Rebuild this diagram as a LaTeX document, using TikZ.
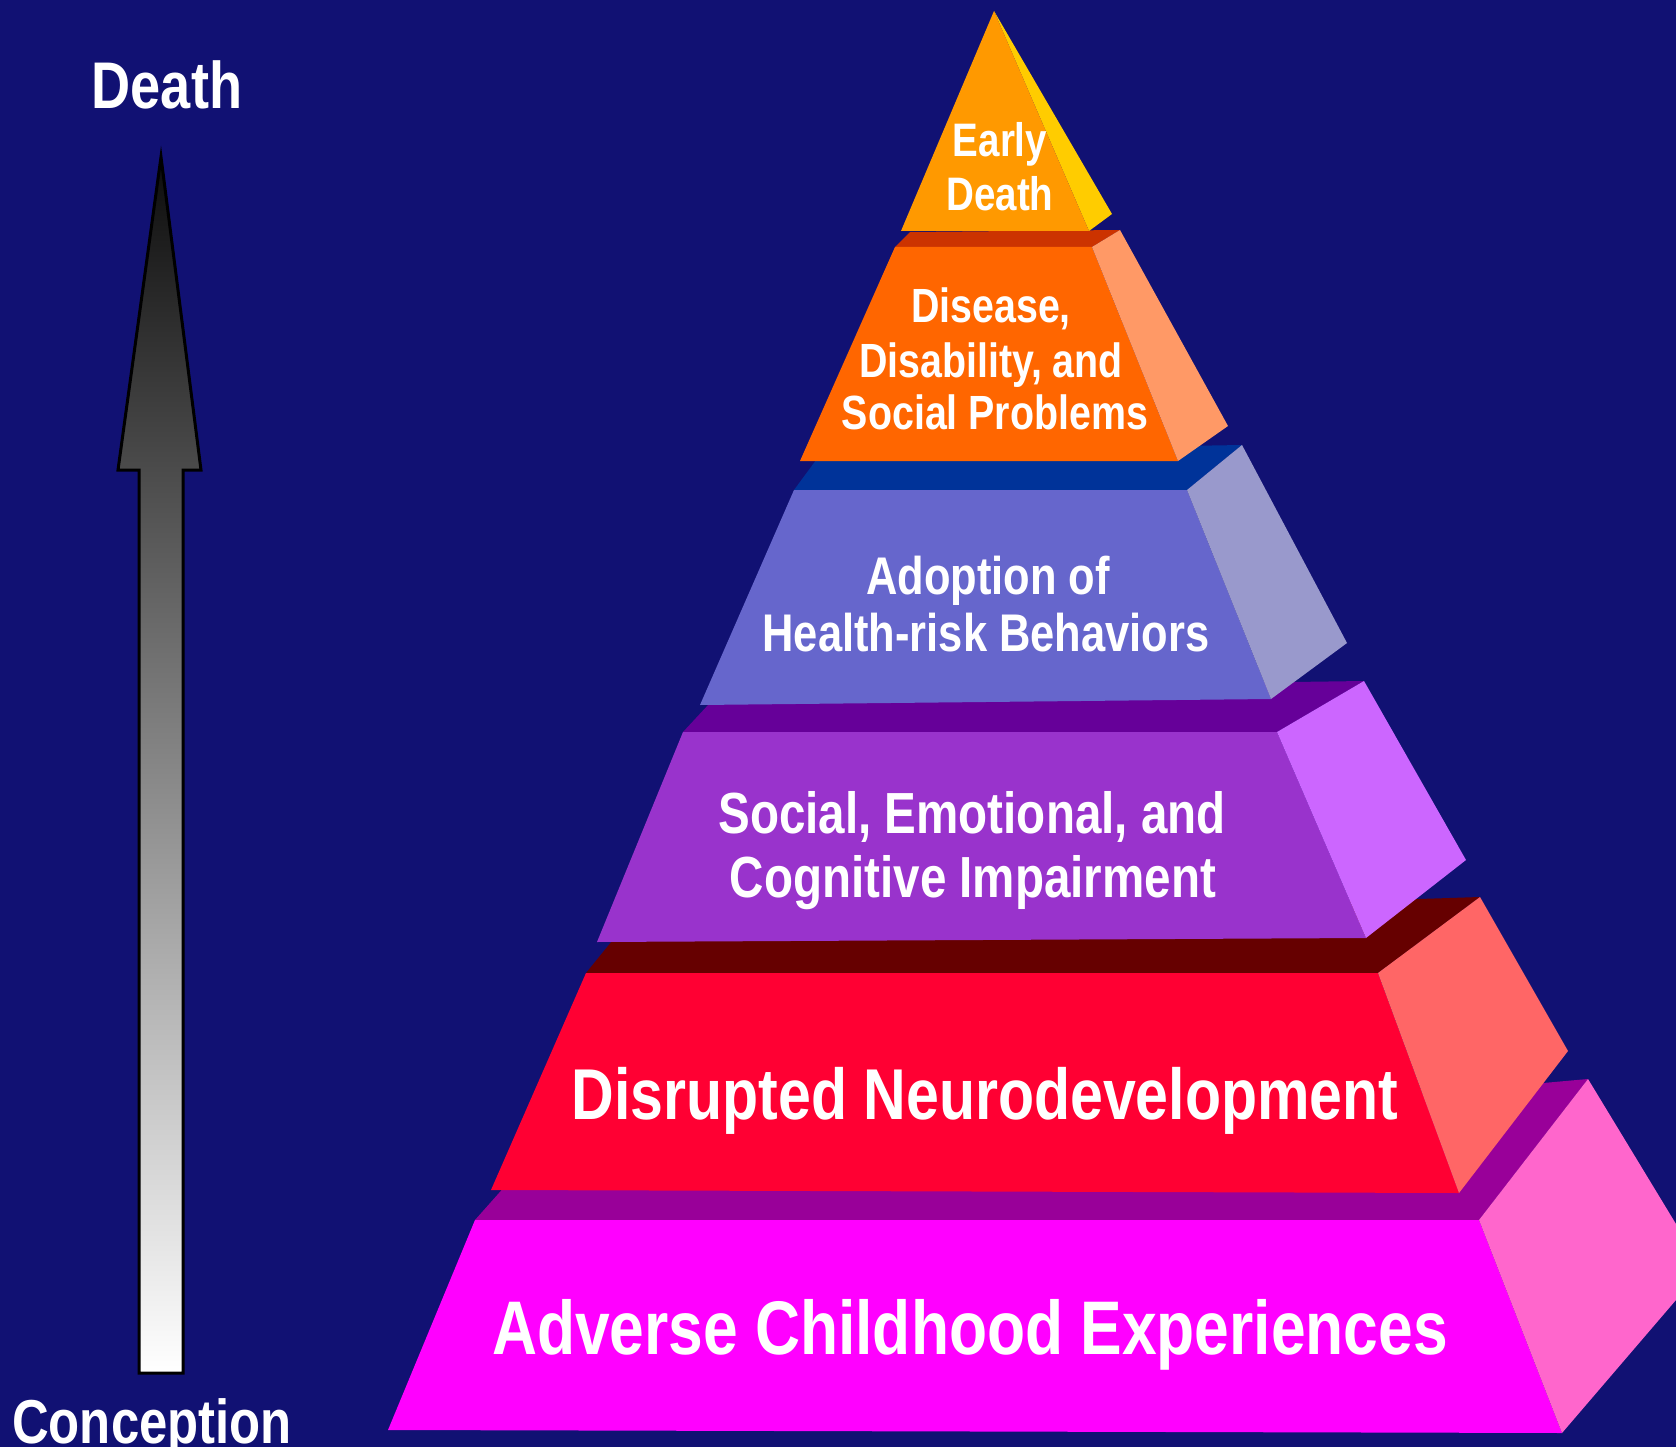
\documentclass[tikz,border=0pt]{standalone}
\usepackage{fontspec}
\newfontfamily\nar[FakeStretch=0.82]{Liberation Sans}
\newcommand\fsz[1]{\fontsize{#1}{#1}\selectfont\nar\bfseries}
\definecolor{bg}{HTML}{111173}
\definecolor{t1f}{HTML}{FF9900}\definecolor{t1s}{HTML}{FFCC00}
\definecolor{t2b}{HTML}{CC3300}\definecolor{t2f}{HTML}{FF6600}\definecolor{t2s}{HTML}{FF9966}
\definecolor{t3b}{HTML}{003399}\definecolor{t3f}{HTML}{6666CC}\definecolor{t3s}{HTML}{9999CC}
\definecolor{t4b}{HTML}{660099}\definecolor{t4f}{HTML}{9933CC}\definecolor{t4s}{HTML}{CC66FF}
\definecolor{t5b}{HTML}{660000}\definecolor{t5f}{HTML}{FF0033}\definecolor{t5s}{HTML}{FF6666}
\definecolor{t6b}{HTML}{990099}\definecolor{t6f}{HTML}{FF00FF}\definecolor{t6s}{HTML}{FF66CC}
\begin{document}
\begin{tikzpicture}[x=1pt,y=-1pt,
  lbl/.style={text=white, inner sep=0pt, anchor=base}]
\fill[bg] (0,0) rectangle (1676,1447);
\useasboundingbox (0,0) rectangle (1676,1447);

% tier 6: Adverse Childhood Experiences
\fill[t6b] (475,1220) -- (1479,1220) -- (1588,1079) -- (515,1175) -- cycle;
\fill[t6f] (475,1220) -- (1479,1220) -- (1562,1433) -- (388,1430) -- cycle;
\fill[t6s] (1479,1220) -- (1588,1079) -- (1676,1224) -- (1676,1300) -- (1562,1433) -- cycle;

% tier 5: Disrupted Neurodevelopment
\fill[t5b] (586,973) -- (1378,973) -- (1480,897) -- (625,925) -- cycle;
\fill[t5f] (586,973) -- (1378,973) -- (1459,1193) -- (491,1190) -- cycle;
\fill[t5s] (1378,973) -- (1480,897) -- (1568,1051) -- (1459,1193) -- cycle;

% tier 4: Social, Emotional...
\fill[t4b] (683,732) -- (1277,732) -- (1364,681) -- (722,690) -- cycle;
\fill[t4f] (683,732) -- (1277,732) -- (1366,938) -- (597,942) -- cycle;
\fill[t4s] (1277,732) -- (1364,681) -- (1466,860) -- (1366,938) -- cycle;

% tier 3: Adoption of Health-risk Behaviors
\fill[t3b] (794,490) -- (1187,490) -- (1242,445) -- (822,452) -- cycle;
\fill[t3f] (794,490) -- (1187,490) -- (1271,699) -- (700,705) -- cycle;
\fill[t3s] (1187,490) -- (1242,445) -- (1347,643) -- (1271,699) -- cycle;

% tier 2: Disease...
\fill[t2b] (895,247) -- (1092,247) -- (1120,230) -- (910,232) -- cycle;
\fill[t2f] (895,247) -- (1092,247) -- (1178,461) -- (800,461) -- cycle;
\fill[t2s] (1092,247) -- (1120,230) -- (1228,426) -- (1178,461) -- cycle;

% tier 1: Early Death
\fill[t1s] (994,11) -- (1112,214) -- (1089,231) -- cycle;
\fill[t1f] (994,11) -- (1089,231) -- (901,231) -- cycle;

% labels
\node[lbl, font=\fsz{47}] (early) at (1000,157) {Early};
\node[lbl, font=\fsz{47}] (edeath) at (1000,211) {Death};
\node[lbl, font=\fsz{48}] (dis1) at (991,323) {Disease,};
\node[lbl, font=\fsz{48}] (dis2) at (991,377) {Disability, and};
\node[lbl, font=\fsz{48}] (dis3) at (995,429) {Social Problems};
\node[lbl, font=\fsz{53}] (ad1) at (988,594) {Adoption of};
\node[lbl, font=\fsz{53}] (ad2) at (986,651) {Health-risk Behaviors};
\node[lbl, font=\fsz{58}] (so1) at (972,833) {Social, Emotional, and};
\node[lbl, font=\fsz{58}] (so2) at (973,897) {Cognitive Impairment};
\node[lbl, font=\fsz{72}] (neuro) at (985,1119) {Disrupted Neurodevelopment};
\node[lbl, font=\fsz{76}] (ace) at (970,1354) {Adverse Childhood Experiences};

% time arrow
\node[lbl, font=\fsz{66}] (death) at (167,109) {Death};
\node[lbl, font=\fsz{62}] (conc) at (152,1443) {Conception};
\shadedraw[top color=black!95, bottom color=white, draw=black, line width=3pt, line join=miter]
  (161,157) -- (201,470) -- (183,470) -- (183,1373) -- (139,1373) -- (139,470) -- (118,470) -- cycle;
\end{tikzpicture}
\end{document}
